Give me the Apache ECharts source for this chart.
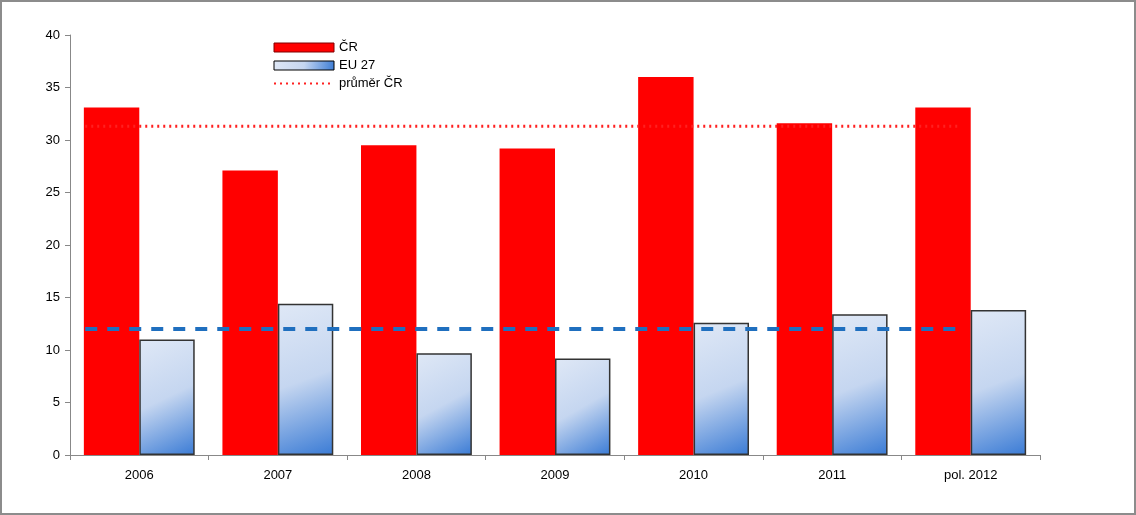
<!DOCTYPE html>
<html>
<head>
<meta charset="utf-8">
<script src="https://cdn.jsdelivr.net/npm/echarts@6/dist/echarts.min.js"></script>
<style>
  html, body { margin: 0; padding: 0; background: #fff; }
  #chart { width: 1132px; height: 511px; border: 2px solid #8c8c8c; }
</style>
</head>
<body>
<div id="chart"></div>
<script>
const categories = ['2006', '2007', '2008', '2009', '2010', '2011', 'pol. 2012']
const crValues = [33.1, 27.1, 29.5, 29.2, 36.0, 31.6, 33.1]
const euValues = [11.0, 14.4, 9.7, 9.2, 12.6, 13.4, 13.8]
const crAverage = 31.3
const euAverage = 12.0

const euFill = new echarts.graphic.LinearGradient(0, 0, 1, 1, [
  { offset: 0, color: '#dfe8f6' },
  { offset: 0.5, color: '#c5d6f0' },
  { offset: 1, color: '#3a7bd5' }
])

const chart = echarts.init(document.getElementById('chart'))
chart.setOption({
  animation: false,
  textStyle: { fontFamily: 'Liberation Sans, Arial, sans-serif' },
  grid: { left: 68, right: 94, top: 33, bottom: 58 },
  legend: {
    orient: 'vertical',
    left: 266,
    top: 34,
    itemWidth: 60,
    itemHeight: 9,
    itemGap: 5,
    textStyle: { fontSize: 13, color: '#000' },
    data: [
      { name: 'ČR', icon: 'rect', itemStyle: { color: '#ff0000', borderColor: '#800000', borderWidth: 1 } },
      { name: 'EU 27', icon: 'rect', itemStyle: { borderColor: '#000', borderWidth: 1 } },
      { name: 'průměr ČR', itemStyle: { opacity: 0 } }
    ]
  },
  xAxis: [
    {
      type: 'category',
      data: categories,
      axisLine: { lineStyle: { color: '#888' } },
      axisTick: { show: true, length: 5, lineStyle: { color: '#888' } },
      axisLabel: { color: '#000', fontSize: 13, margin: 14 }
    },
    { type: 'value', min: 0, max: 7, show: false }
  ],
  yAxis: {
    type: 'value',
    min: 0,
    max: 40,
    interval: 5,
    splitLine: { show: false },
    axisLine: { show: true, lineStyle: { color: '#888' } },
    axisTick: { show: true, length: 5, lineStyle: { color: '#888' } },
    axisLabel: { color: '#000', fontSize: 13, margin: 10 }
  },
  series: [
    {
      name: 'ČR',
      type: 'bar',
      data: crValues,
      barGap: '0%',
      barCategoryGap: '20%',
      itemStyle: { color: '#ff0000' }
    },
    {
      name: 'EU 27',
      type: 'bar',
      data: euValues,
      itemStyle: { color: euFill, borderColor: '#333', borderWidth: 1.5 }
    },
    {
      name: 'průměr ČR',
      type: 'line',
      xAxisIndex: 1,
      data: [[0.11, crAverage], [6.42, crAverage]],
      symbol: 'none',
      lineStyle: { color: '#ff2020', width: 3, type: [2, 4] },
      itemStyle: { color: '#ff2020' }
    },
    {
      name: 'průměr EU',
      type: 'line',
      xAxisIndex: 1,
      data: [[0.11, euAverage], [6.42, euAverage]],
      symbol: 'none',
      lineStyle: { color: '#1f6fbf', width: 4, type: [12, 10] }
    }
  ]
})
</script>
</body>
</html>
